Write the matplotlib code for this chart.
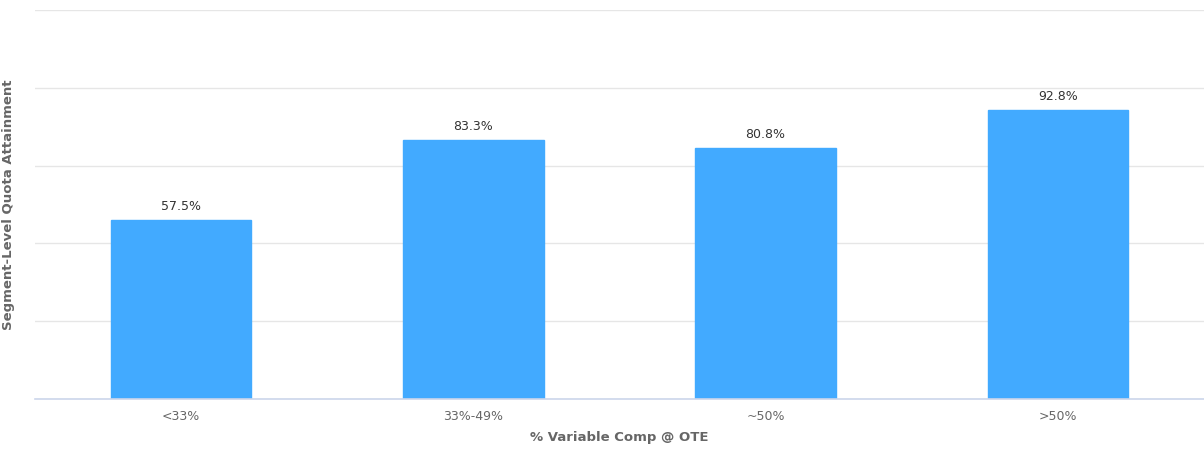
import matplotlib
matplotlib.use("Agg")
import matplotlib.pyplot as plt

categories = ["<33%", "33%-49%", "~50%", ">50%"]
values = [57.5, 83.3, 80.8, 92.8]
labels = ["57.5%", "83.3%", "80.8%", "92.8%"]

plt.rcParams['font.family'] = ['DejaVu Sans']

fig = plt.figure(figsize=(12.04, 4.51), dpi=100)
ax = fig.add_axes([35/1204, 1 - 399/451, 1 - 35/1204, (399 - 10)/451])

x = list(range(len(categories)))
ax.bar(x, values, width=0.48, color="#42aaff", edgecolor="#42aaff", zorder=3)
for xi, v, lab in zip(x, values, labels):
    ax.annotate(lab, (xi, v), xytext=(0, 5), textcoords="offset points",
                ha="center", va="bottom", fontsize=9, color="#333333")

ax.set_xlim(-0.5, 3.5)
ax.set_ylim(0, 125)
ax.set_yticks([0, 25, 50, 75, 100, 125])
ax.set_yticklabels([])
ax.tick_params(axis="y", length=0)
ax.grid(axis="y", color="#e6e6e6", linewidth=1, zorder=0)
ax.set_xticks(x)
ax.set_xticklabels(categories, fontsize=9, color="#666666")
ax.tick_params(axis="x", length=0, pad=8)
for s in ["top", "right", "left"]:
    ax.spines[s].set_visible(False)
ax.spines["bottom"].set_color("#ccd6eb")
ax.spines["bottom"].set_linewidth(1.2)
ax.spines["bottom"].set_zorder(4)

ax.set_xlabel("% Variable Comp @ OTE", fontsize=9.5, color="#666666",
              fontweight="bold", labelpad=6)
ax.set_ylabel("Segment-Level Quota Attainment", fontsize=9.5, color="#666666",
              fontweight="bold")
ax.yaxis.set_label_coords(-20/1169, 0.5)

fig.savefig("out.png", dpi=100)
